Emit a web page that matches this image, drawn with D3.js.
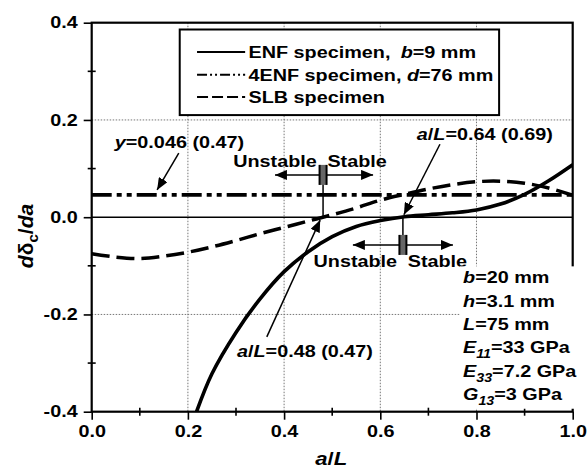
<!DOCTYPE html>
<html>
<head>
<meta charset="utf-8">
<script src="https://cdn.jsdelivr.net/npm/d3@7"></script>
<style>
  body { margin: 0; background: #fff; }
  text { font-family: "Liberation Sans", Arial, sans-serif; font-weight: bold; fill: #000; white-space: pre; }
</style>
</head>
<body>
<svg id="chart" width="588" height="474"></svg>
<script>
// ENF specimen (solid)
const enfX = [0.218, 0.25, 0.30, 0.35, 0.40, 0.45, 0.50, 0.55, 0.60, 0.65, 0.70, 0.75, 0.80, 0.85, 0.90, 0.95, 1.00];
const enfY = [-0.40, -0.322, -0.237, -0.168, -0.112, -0.071, -0.040, -0.019, -0.007, 0.001, 0.005, 0.009, 0.015, 0.027, 0.047, 0.075, 0.108];
// SLB specimen (dashed)
const slbX = [0.0, 0.05, 0.10, 0.15, 0.20, 0.25, 0.30, 0.35, 0.40, 0.45, 0.50, 0.55, 0.60, 0.65, 0.70, 0.75, 0.80, 0.85, 0.90, 0.95, 1.00];
const slbY = [-0.075, -0.082, -0.085, -0.080, -0.072, -0.061, -0.048, -0.034, -0.021, -0.008, 0.005, 0.019, 0.035, 0.047, 0.058, 0.067, 0.073, 0.074, 0.070, 0.060, 0.045];
// 4ENF specimen (dash-dot-dot), constant
const fourX = [0.0, 1.0];
const fourY = [0.046, 0.046];

const xTicks = [0.0, 0.2, 0.4, 0.6, 0.8, 1.0];
const xMinor = [0.1, 0.3, 0.5, 0.7, 0.9];
const yTicks = [-0.4, -0.2, 0.0, 0.2, 0.4];
const yMinor = [-0.3, -0.1, 0.1, 0.3];
const xGrid = [0.2, 0.4, 0.6, 0.8];
const yGrid = [-0.2, 0.2];

const legendNames = ["ENF specimen, ", "4ENF specimen, ", "SLB specimen"];
const legendVars = [["b", "=9 mm"], ["d", "=76 mm"], null];

const paramRows = [
  [{t: "b", i: 1}, {t: "=20 mm"}],
  [{t: "h", i: 1}, {t: "=3.1 mm"}],
  [{t: "L", i: 1}, {t: "=75 mm"}],
  [{t: "E", i: 1}, {t: "11", i: 1, sub: 1}, {t: "=33 GPa"}],
  [{t: "E", i: 1}, {t: "33", i: 1, sub: 1}, {t: "=7.2 GPa"}],
  [{t: "G", i: 1}, {t: "13", i: 1, sub: 1}, {t: "=3 GPa"}]
];

const W = 588, H = 474;
const margin = {top: 22.7, right: 15.3, bottom: 62.3, left: 91.7};
const width = W - margin.left - margin.right;
const height = H - margin.top - margin.bottom;
const FS = 16.5, SX = 1.2;

const svg = d3.select("#chart");
const defs = svg.append("defs");
defs.append("clipPath").attr("id", "clip")
  .append("rect").attr("width", width).attr("height", height);
defs.append("marker")
  .attr("id", "arrow")
  .attr("viewBox", "0 0 12 10")
  .attr("refX", 12).attr("refY", 5)
  .attr("markerWidth", 12).attr("markerHeight", 10)
  .attr("markerUnits", "userSpaceOnUse")
  .attr("orient", "auto-start-reverse")
  .append("path").attr("d", "M0,0L12,5L0,10Z").attr("fill", "#000");

const g = svg.append("g").attr("transform", `translate(${margin.left},${margin.top})`);

const x = d3.scaleLinear().domain([0, 1]).range([0, width]);
const y = d3.scaleLinear().domain([-0.4, 0.4]).range([height, 0]);

// widen glyphs about their anchor, the original figure is stretched horizontally
function stretch(sel, k) {
  k = k || SX;
  sel.each(function() {
    const t = d3.select(this);
    const ax = +t.attr("x") || 0;
    t.attr("transform", `translate(${ax * (1 - k)},0) scale(${k},1)`);
  });
}

function rich(parent, px, py, parts, size) {
  const t = parent.append("text").attr("x", px).attr("y", py).attr("font-size", size || FS);
  let shift = 0;
  parts.forEach(p => {
    const s = t.append("tspan").text(p.t);
    if (p.i) s.attr("font-style", "italic");
    const want = p.sub ? 5 : 0;
    if (want !== shift) { s.attr("dy", want - shift); shift = want; }
    if (p.sub) s.attr("font-size", "0.72em");
    if (p.dx) s.attr("dx", p.dx);
  });
  return t;
}

// grid
g.append("g").selectAll("line").data(xGrid).join("line")
  .attr("x1", d => x(d)).attr("x2", d => x(d))
  .attr("y1", 0).attr("y2", height)
  .attr("stroke", "#777").attr("stroke-width", 1).attr("stroke-dasharray", "1.5,1.5");
g.append("g").selectAll("line").data(yGrid).join("line")
  .attr("x1", 0).attr("x2", width)
  .attr("y1", d => y(d)).attr("y2", d => y(d))
  .attr("stroke", "#777").attr("stroke-width", 1).attr("stroke-dasharray", "1.5,1.5");
// zero line
g.append("line")
  .attr("x1", 0).attr("x2", width).attr("y1", y(0)).attr("y2", y(0))
  .attr("stroke", "#000").attr("stroke-width", 1.6);

// axes
const fmt = d => d.toFixed(1);
const yAxis = g.append("g")
  .call(d3.axisLeft(y).tickValues(yTicks).tickFormat(fmt).tickSize(8).tickPadding(6));
const xAxis = g.append("g").attr("transform", `translate(0,${height})`)
  .call(d3.axisBottom(x).tickValues(xTicks).tickFormat(fmt).tickSize(8).tickPadding(6));
[xAxis, yAxis].forEach(a => {
  a.select(".domain").remove();
  a.selectAll(".tick line").attr("stroke-width", 1.6);
  a.selectAll(".tick text").attr("font-size", FS).attr("font-family", null).call(stretch);
});
// minor ticks crossing the axes
g.append("g").selectAll("line").data(yMinor).join("line")
  .attr("x1", -4).attr("x2", 4).attr("y1", d => y(d)).attr("y2", d => y(d))
  .attr("stroke", "#000").attr("stroke-width", 1.6);
g.append("g").selectAll("line").data(xMinor).join("line")
  .attr("x1", d => x(d)).attr("x2", d => x(d)).attr("y1", height - 4).attr("y2", height + 4)
  .attr("stroke", "#000").attr("stroke-width", 1.6);

// frame
g.append("rect").attr("width", width).attr("height", height)
  .attr("fill", "none").attr("stroke", "#000").attr("stroke-width", 2.2);

// curves
const line = d3.line().x(d => x(d[0])).y(d => y(d[1])).curve(d3.curveCatmullRom.alpha(0.5));
const curves = g.append("g").attr("clip-path", "url(#clip)");
curves.append("path").datum(d3.zip(slbX, slbY)).attr("d", line)
  .attr("fill", "none").attr("stroke", "#000").attr("stroke-width", 3.5)
  .attr("stroke-dasharray", "18,7");
curves.append("path").datum(d3.zip(fourX, fourY)).attr("d", line)
  .attr("fill", "none").attr("stroke", "#000").attr("stroke-width", 3.6)
  .attr("stroke-dasharray", "20,5,5,5,5,5");
curves.append("path").datum(d3.zip(enfX, enfY)).attr("d", line)
  .attr("fill", "none").attr("stroke", "#000").attr("stroke-width", 3.6);

// legend
const leg = g.append("g");
leg.append("rect")
  .attr("x", x(0.183)).attr("y", y(0.386))
  .attr("width", x(0.847) - x(0.183)).attr("height", y(0.210) - y(0.386))
  .attr("fill", "#fff").attr("stroke", "#000").attr("stroke-width", 2);
const legRowsY = [0.34, 0.293, 0.247];
const legDash = [null, "10,3,2,3,2,3", "11,4"];
legendNames.forEach((name, i) => {
  leg.append("line")
    .attr("x1", x(0.219)).attr("x2", x(0.319))
    .attr("y1", y(legRowsY[i])).attr("y2", y(legRowsY[i]))
    .attr("stroke", "#000").attr("stroke-width", 2)
    .attr("stroke-dasharray", legDash[i]);
  const parts = [{t: name}];
  if (legendVars[i]) parts.push({t: legendVars[i][0], i: 1, dx: i === 0 ? 4 : 0}, {t: legendVars[i][1]});
  rich(leg, x(0.326), y(legRowsY[i]) + 6, parts).call(stretch);
});

// annotations
const ann = g.append("g");
function arrow(x1, y1, x2, y2, both) {
  const l = ann.append("line")
    .attr("x1", x(x1)).attr("y1", y(y1)).attr("x2", x(x2)).attr("y2", y(y2))
    .attr("stroke", "#000").attr("stroke-width", 1.5)
    .attr("marker-end", "url(#arrow)");
  if (both) l.attr("marker-start", "url(#arrow)");
}
function bars(cx, cy) {
  ann.append("rect").attr("x", x(cx) - 3.5).attr("y", y(cy) - 10)
    .attr("width", 7).attr("height", 20).attr("fill", "#666");
  [-3.5, 3.5].forEach(o => ann.append("line")
    .attr("x1", x(cx) + o).attr("x2", x(cx) + o)
    .attr("y1", y(cy) - 10).attr("y2", y(cy) + 10)
    .attr("stroke", "#000").attr("stroke-width", 2));
}

rich(ann, x(0.048), y(0.142), [{t: "y", i: 1}, {t: "=0.046 (0.47)"}]).call(stretch);
arrow(0.181, 0.132, 0.136, 0.056);

// upper stability marker (SLB crossing)
ann.append("line").attr("x1", x(0.481)).attr("x2", x(0.481)).attr("y1", y(0.087)).attr("y2", y(0))
  .attr("stroke", "#000").attr("stroke-width", 1.5);
arrow(0.381, 0.087, 0.585, 0.087, true);
bars(0.481, 0.087);
rich(ann, x(0.468), y(0.104), [{t: "Unstable"}]).attr("text-anchor", "end").call(stretch);
rich(ann, x(0.49), y(0.104), [{t: "Stable"}]).call(stretch);

rich(ann, x(0.676), y(0.159), [{t: "a", i: 1}, {t: "/"}, {t: "L", i: 1}, {t: "=0.64 (0.69)"}]).call(stretch);
arrow(0.724, 0.150, 0.649, 0.005);

// lower stability marker (ENF crossing)
ann.append("line").attr("x1", x(0.647)).attr("x2", x(0.647)).attr("y1", y(0)).attr("y2", y(-0.057))
  .attr("stroke", "#000").attr("stroke-width", 1.5);
arrow(0.543, -0.057, 0.751, -0.057, true);
bars(0.647, -0.057);
rich(ann, x(0.635), y(-0.102), [{t: "Unstable"}]).attr("text-anchor", "end").call(stretch);
rich(ann, x(0.657), y(-0.102), [{t: "Stable"}]).call(stretch);

rich(ann, x(0.302), y(-0.287), [{t: "a", i: 1}, {t: "/"}, {t: "L", i: 1}, {t: "=0.48 (0.47)"}]).call(stretch);
arrow(0.364, -0.246, 0.475, -0.006);

// specimen parameters
const par = g.append("g");
const parY = [-0.135, -0.184, -0.232, -0.279, -0.328, -0.376];
paramRows.forEach((row, i) => rich(par, x(0.772), y(parY[i]), row).call(stretch));
const bb = par.node().getBBox();
par.insert("rect", ":first-child")
  .attr("x", bb.x - 3).attr("y", bb.y - 2)
  .attr("width", bb.width + 4).attr("height", bb.height + 3)
  .attr("fill", "#fff");

// axis titles
rich(svg, margin.left + width / 2 - 1, 465, [{t: "a", i: 1}, {t: "/"}, {t: "L", i: 1}], 18.5)
  .attr("text-anchor", "middle").call(stretch);
rich(svg, 0, 0, [{t: "d", i: 1}, {t: "δ"}, {t: "c", sub: 1}, {t: "/"}, {t: "da", i: 1}], 21)
  .attr("text-anchor", "middle")
  .attr("transform", "translate(33,236) rotate(-90)");
</script>
</body>
</html>
